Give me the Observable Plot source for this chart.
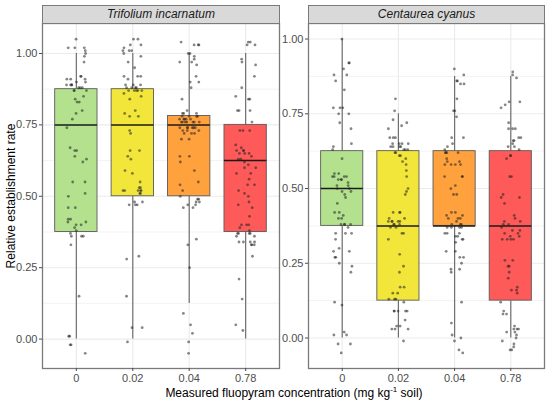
<!DOCTYPE html>
<html><head><meta charset="utf-8">
<script src="https://cdn.jsdelivr.net/npm/d3@7"></script>
<script src="https://cdn.jsdelivr.net/npm/@observablehq/plot@0.6"></script>
<style>
body{margin:0;background:#fff;}
#chart{position:relative;width:550px;height:406px;font-family:"Liberation Sans",Arial,sans-serif;background:#fff;overflow:hidden;}
#chart svg{position:absolute;top:0;background:transparent;}
.strip{position:absolute;top:5px;height:19px;box-sizing:border-box;background:#d9d9d9;border:1px solid #7a7a7a;font-style:italic;font-size:12px;color:#1a1a1a;text-align:center;line-height:17px;}
#ytitle{position:absolute;left:11px;top:196px;transform:translate(-50%,-50%) rotate(-90deg);white-space:nowrap;font-size:12px;color:#000;}
#xtitle{position:absolute;left:0;width:588px;top:385px;text-align:center;font-size:12px;color:#000;white-space:nowrap;}
#xtitle sup{font-size:8px;}
</style></head>
<body><div id="chart"></div>
<script>
const concentrations = ["0", "0.02", "0.04", "0.78"];
const species = ["Trifolium incarnatum", "Centaurea cyanus"];
const fills = ["#b3e18e", "#f2e63a", "#ffa23d", "#ff5a5a"];
const yTicks = [0, 0.25, 0.5, 0.75, 1];
const yMinor = [-0.125, 0.125, 0.375, 0.625, 0.875];

// Box statistics (lower whisker, Q1, median, Q3, upper whisker)
const trifoliumLower = [0, 0, 0.125, 0];
const trifoliumQ1 = [0.375, 0.5, 0.5, 0.375];
const trifoliumMedian = [0.75, 0.75, 0.75, 0.625];
const trifoliumQ3 = [0.875, 0.875, 0.78125, 0.75];
const trifoliumUpper = [1, 1, 1, 1];

const centaureaLower = [0, 0, 0, 0];
const centaureaQ1 = [0.375, 0.125, 0.375, 0.125];
const centaureaMedian = [0.5, 0.375, 0.375, 0.375];
const centaureaQ3 = [0.625, 0.625, 0.625, 0.625];
const centaureaUpper = [1, 0.75, 0.875, 0.875];

const trifolium0 = [1.05,1.02,1.02,1.02,1.01,1.0,0.99,0.97,0.92,0.92,0.91,0.91,0.91,0.90,0.90,0.89,0.89,0.89,0.89,0.88,0.88,0.88,0.87,0.87,0.87,0.85,0.84,0.83,0.83,0.80,0.79,0.77,0.74,0.67,0.66,0.66,0.64,0.63,0.62,0.55,0.55,0.51,0.50,0.46,0.46,0.42,0.42,0.41,0.41,0.40,0.40,0.39,0.38,0.37,0.36,0.36,0.36,0.33,0.15,0.01,0.01,-0.02,-0.02,-0.05];
const trifolium002 = [1.05,1.05,1.03,1.03,1.02,1.01,1.01,1.01,1.0,0.99,0.97,0.95,0.92,0.92,0.92,0.91,0.89,0.89,0.89,0.88,0.88,0.88,0.88,0.87,0.87,0.87,0.87,0.87,0.86,0.85,0.84,0.80,0.79,0.78,0.78,0.73,0.72,0.66,0.66,0.64,0.63,0.59,0.58,0.55,0.53,0.53,0.52,0.52,0.52,0.52,0.52,0.51,0.51,0.48,0.48,0.47,0.47,0.47,0.29,0.28,0.15,0.04,0.04,-0.01];
const trifolium004 = [1.04,1.03,1.03,1.03,1.0,1.0,0.99,0.98,0.97,0.97,0.96,0.92,0.90,0.90,0.88,0.84,0.80,0.79,0.79,0.79,0.78,0.78,0.78,0.78,0.77,0.77,0.77,0.77,0.77,0.76,0.76,0.76,0.76,0.76,0.76,0.76,0.74,0.74,0.74,0.74,0.74,0.74,0.73,0.73,0.73,0.72,0.72,0.72,0.70,0.70,0.64,0.64,0.62,0.59,0.55,0.54,0.52,0.50,0.49,0.49,0.48,0.48,0.47,0.47,0.46,0.46,0.35,0.33,0.25,0.09,0.05,0.02,-0.01,-0.05];
const trifolium078 = [1.04,1.04,1.03,1.03,0.98,0.97,0.96,0.92,0.88,0.85,0.84,0.84,0.80,0.80,0.80,0.76,0.73,0.73,0.73,0.68,0.67,0.66,0.66,0.66,0.65,0.65,0.65,0.64,0.63,0.63,0.62,0.61,0.60,0.60,0.58,0.58,0.56,0.54,0.54,0.52,0.51,0.50,0.48,0.47,0.46,0.43,0.40,0.40,0.40,0.39,0.38,0.37,0.37,0.37,0.37,0.36,0.36,0.34,0.34,0.34,0.34,0.33,0.33,0.33,0.29,0.21,0.14,0.05,0.03];

const centaurea0 = [1.0,0.92,0.92,0.90,0.88,0.88,0.86,0.83,0.77,0.77,0.77,0.75,0.75,0.72,0.70,0.65,0.64,0.63,0.60,0.55,0.55,0.54,0.54,0.54,0.54,0.53,0.53,0.53,0.52,0.51,0.51,0.50,0.50,0.49,0.49,0.48,0.47,0.45,0.42,0.42,0.41,0.40,0.40,0.38,0.38,0.38,0.38,0.37,0.35,0.35,0.35,0.33,0.30,0.29,0.29,0.27,0.27,0.25,0.24,0.22,0.12,0.11,0.02,0.01,0.01,-0.02,-0.02,-0.05];
const centaurea002 = [0.80,0.76,0.73,0.72,0.71,0.70,0.67,0.67,0.67,0.65,0.65,0.65,0.65,0.64,0.64,0.64,0.64,0.63,0.63,0.63,0.62,0.62,0.61,0.61,0.60,0.59,0.58,0.56,0.54,0.50,0.49,0.48,0.42,0.42,0.42,0.40,0.40,0.39,0.39,0.39,0.39,0.39,0.38,0.38,0.38,0.37,0.37,0.35,0.35,0.33,0.28,0.24,0.22,0.17,0.17,0.15,0.15,0.13,0.13,0.13,0.12,0.09,0.09,0.09,0.09,0.09,0.06,0.04,0.04,0.03,0.03,0.03,-0.01];
const centaurea004 = [0.90,0.88,0.86,0.86,0.85,0.85,0.80,0.76,0.76,0.74,0.67,0.67,0.65,0.64,0.63,0.62,0.62,0.62,0.62,0.60,0.59,0.59,0.58,0.58,0.58,0.58,0.54,0.54,0.54,0.51,0.50,0.48,0.48,0.42,0.42,0.41,0.41,0.40,0.40,0.40,0.39,0.38,0.38,0.38,0.37,0.37,0.37,0.37,0.35,0.35,0.35,0.34,0.34,0.33,0.33,0.32,0.29,0.29,0.27,0.27,0.25,0.23,0.23,0.22,0.12,0.05,0.01,0.00,-0.01,-0.04,-0.05];
const centaurea078 = [0.89,0.88,0.87,0.79,0.79,0.78,0.77,0.72,0.70,0.70,0.70,0.67,0.67,0.66,0.66,0.65,0.64,0.64,0.63,0.61,0.61,0.60,0.54,0.54,0.48,0.47,0.47,0.45,0.41,0.40,0.39,0.39,0.38,0.38,0.37,0.36,0.36,0.35,0.35,0.34,0.34,0.33,0.33,0.33,0.33,0.26,0.26,0.24,0.24,0.22,0.20,0.17,0.16,0.16,0.15,0.12,0.09,0.08,0.08,0.04,0.03,0.03,0.03,0.02,0.02,0.01,0.00,-0.01,-0.02,-0.03,-0.04,-0.04];

function panel({lower, q1, median, q3, upper, points, yDomain, seed, width, marginLeft, marginRight, left}) {
  const boxes = concentrations.map((c, i) => ({
    pos: i + 1, lower: lower[i], q1: q1[i], median: median[i], q3: q3[i], upper: upper[i], fill: fills[i]
  }));
  const jitter = d3.randomUniform.source(d3.randomLcg(seed))(-0.18, 0.18);
  const dots = points.flatMap((vals, i) => vals.map(v => ({pos: i + 1 + jitter(), v})));
  const svg = Plot.plot({
    width, height: 388,
    marginLeft, marginRight, marginTop: 23, marginBottom: 20,
    x: {domain: [0.4, 4.6]},
    y: {domain: yDomain},
    color: {type: "identity"},
    style: {fontFamily: '"Liberation Sans", Arial, sans-serif', fontSize: "11px", background: "transparent", overflow: "visible"},
    marks: [
      Plot.ruleY(yMinor.filter(v => v > yDomain[0] && v < yDomain[1]), {stroke: "#ebebeb", strokeWidth: 0.6}),
      Plot.ruleY(yTicks, {stroke: "#ebebeb", strokeWidth: 1.1}),
      Plot.ruleX([1, 2, 3, 4], {stroke: "#ebebeb", strokeWidth: 1.1}),
      Plot.ruleX(boxes, {x: "pos", y1: "lower", y2: "q1", stroke: "#707070", strokeWidth: 1.2}),
      Plot.ruleX(boxes, {x: "pos", y1: "q3", y2: "upper", stroke: "#707070", strokeWidth: 1.2}),
      Plot.rect(boxes, {x1: d => d.pos - 0.375, x2: d => d.pos + 0.375, y1: "q1", y2: "q3", fill: "fill", stroke: "#5a5a5a", strokeWidth: 0.9}),
      Plot.ruleY(boxes, {y: "median", x1: d => d.pos - 0.375, x2: d => d.pos + 0.375, stroke: "#1a1a1a", strokeWidth: 1.5}),
      Plot.dot(dots, {x: "pos", y: "v", r: 1.4, fill: "#222", fillOpacity: 0.55, stroke: "none"}),
      Plot.frame({stroke: "#7a7a7a", strokeWidth: 1.3}),
      Plot.axisY(yTicks, {tickFormat: d3.format(".2f"), tickSize: 3, tickPadding: 2, label: null, color: "#4d4d4d"}),
      Plot.axisX([1, 2, 3, 4], {tickFormat: i => concentrations[i - 1], tickSize: 3, tickPadding: 3, label: null, color: "#4d4d4d"})
    ]
  });
  svg.style.left = left + "px";
  return svg;
}

const chart = document.getElementById("chart");
chart.appendChild(panel({
  lower: trifoliumLower, q1: trifoliumQ1, median: trifoliumMedian, q3: trifoliumQ3, upper: trifoliumUpper,
  points: [trifolium0, trifolium002, trifolium004, trifolium078],
  yDomain: [-0.103, 1.105], seed: 0.17, width: 281, marginLeft: 42, marginRight: 2, left: 0
}));
chart.appendChild(panel({
  lower: centaureaLower, q1: centaureaQ1, median: centaureaMedian, q3: centaureaQ3, upper: centaureaUpper,
  points: [centaurea0, centaurea002, centaurea004, centaurea078],
  yDomain: [-0.102, 1.052], seed: 0.53, width: 271, marginLeft: 29, marginRight: 6, left: 279
}));

const strips = [{name: species[0], left: 42, width: 237}, {name: species[1], left: 308, width: 236}];
for (const s of strips) {
  const d = document.createElement("div");
  d.className = "strip";
  d.style.left = s.left + "px";
  d.style.width = (s.width + 1) + "px";
  d.textContent = s.name;
  chart.appendChild(d);
}
const yt = document.createElement("div");
yt.id = "ytitle";
yt.textContent = "Relative establishment rate";
chart.appendChild(yt);
const xt = document.createElement("div");
xt.id = "xtitle";
xt.innerHTML = "Measured fluopyram concentration (mg kg<sup>-1</sup> soil)";
chart.appendChild(xt);
</script>
</body></html>
